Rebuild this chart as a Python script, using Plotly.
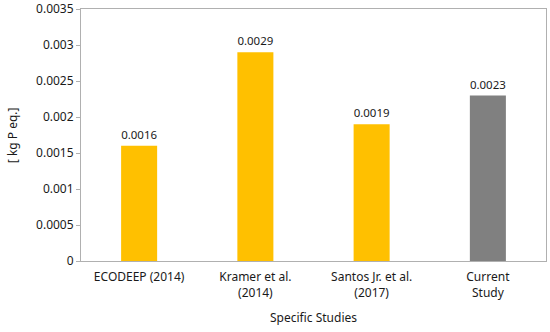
import plotly.graph_objects as go

categories = ["ECODEEP (2014)", "Kramer et al.<br>(2014)", "Santos Jr. et al.<br>(2017)", "Current<br>Study"]
values = [0.0016, 0.0029, 0.0019, 0.0023]
labels = ["0.0016", "0.0029", "0.0019", "0.0023"]
colors = ["#FFC000", "#FFC000", "#FFC000", "#808080"]
yticks = [0, 0.0005, 0.001, 0.0015, 0.002, 0.0025, 0.003, 0.0035]
yticklabels = ["0", "0.0005", "0.001", "0.0015", "0.002", "0.0025", "0.003", "0.0035"]
x_title = "Specific Studies"
y_title = "[ kg P eq.]"

font_family = "Noto Sans, Liberation Sans, sans-serif"

fig = go.Figure(go.Bar(
    x=categories, y=values, marker_color=colors, marker_line_width=0,
    text=labels, textposition="outside", cliponaxis=False,
    textfont=dict(size=12, color="#1a1a1a", family=font_family),
))
fig.update_layout(
    width=550, height=332,
    margin=dict(l=81, r=4, t=9, b=71),
    paper_bgcolor="white", plot_bgcolor="white",
    bargap=0.69,
    showlegend=False,
    font=dict(family=font_family, size=12, color="#1a1a1a"),
    annotations=[
        dict(text=x_title, xref="paper", yref="paper", x=0.5, y=-0.225,
             xanchor="center", yanchor="middle", showarrow=False,
             font=dict(size=12, color="#1a1a1a")),
        dict(text=y_title, xref="paper", yref="paper", x=-0.148, y=0.5,
             xanchor="center", yanchor="middle", showarrow=False, textangle=-90,
             font=dict(size=12, color="#1a1a1a")),
    ],
)
fig.update_xaxes(
    showline=True, linecolor="#b0b0b0", linewidth=1, mirror=True,
    showgrid=False, ticks="", tickfont=dict(size=12), automargin=False,
    ticklabelstandoff=5,
)
fig.update_yaxes(
    range=[0, 0.0035], tickvals=yticks, ticktext=yticklabels,
    showline=True, linecolor="#b0b0b0", linewidth=1, mirror=True,
    showgrid=False, ticks="outside", ticklen=4, tickcolor="#b0b0b0",
    tickfont=dict(size=12), automargin=False,
    zeroline=False,
)
fig.write_html("out.html", config={"displayModeBar": False},
               post_script="document.body.style.margin='0';document.body.style.overflow='hidden';")
